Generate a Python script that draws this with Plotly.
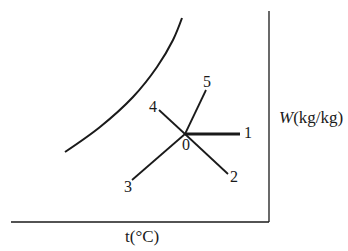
import plotly.graph_objects as go

# Saturation curve (t, W) in chart units
curve_t = [65, 100, 133, 157, 173, 182]
curve_w = [99, 124, 154, 184, 211, 233]

# Process lines from state point 0
origin = (185, 117)
ends_t = [240, 228, 132, 159, 206]
ends_w = [117, 77, 71, 141, 161]
end_labels = ["1", "2", "3", "4", "5"]
label_t = [248, 234, 128, 153, 207]
label_w = [117, 73, 63, 143, 168]

FONT = "'Liberation Serif', 'DejaVu Serif', 'Times New Roman', serif"
INK = "#1a1a1a"

fig = go.Figure()
fig.add_trace(go.Scatter(x=curve_t, y=curve_w, mode="lines",
                         line=dict(color=INK, width=2, shape="spline"),
                         hoverinfo="skip"))
for i, (t, w) in enumerate(zip(ends_t, ends_w)):
    fig.add_trace(go.Scatter(x=[origin[0], t], y=[origin[1], w], mode="lines",
                             line=dict(color=INK, width=3.2 if i == 0 else 1.8),
                             hoverinfo="skip"))
fig.add_trace(go.Scatter(x=label_t + [186], y=label_w + [105], mode="text",
                         text=end_labels + ["0"],
                         textfont=dict(family=FONT, size=16, color=INK),
                         hoverinfo="skip"))

# Axes lines
fig.add_shape(type="line", x0=11, x1=269, y0=29, y1=29, line=dict(color=INK, width=1.3))
fig.add_shape(type="line", x0=269, x1=269, y0=29, y1=240, line=dict(color=INK, width=1.3))

fig.add_annotation(x=142, y=15, text="t(°C)", showarrow=False,
                   font=dict(family=FONT, size=17, color=INK))
fig.add_annotation(x=311, y=134, text="<i>W</i>(kg/kg)", showarrow=False,
                   font=dict(family=FONT, size=17, color=INK))

fig.update_layout(width=348, height=251, margin=dict(l=0, r=0, t=0, b=0),
                  font=dict(family=FONT, color=INK),
                  paper_bgcolor="white", plot_bgcolor="white", showlegend=False)
fig.update_xaxes(range=[0, 348], visible=False, fixedrange=True)
fig.update_yaxes(range=[0, 251], visible=False, fixedrange=True)

fig.write_html("out.html", config={"displayModeBar": False})
